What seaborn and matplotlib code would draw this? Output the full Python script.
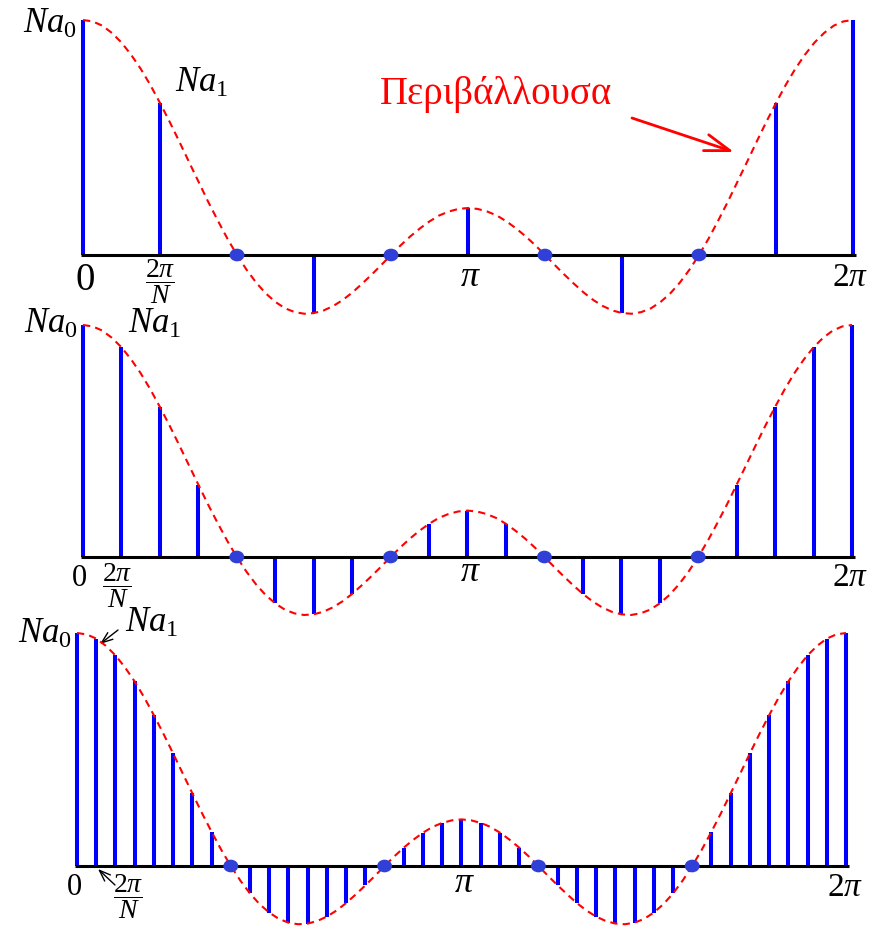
import numpy as np
import matplotlib
matplotlib.use("Agg")
import matplotlib.pyplot as plt
import matplotlib.path as mpath
from matplotlib.transforms import Affine2D
import seaborn as sns

sns.set_theme(style="white")
plt.rcParams["font.family"] = ["Liberation Serif", "DejaVu Serif"]
plt.rcParams["mathtext.fontset"] = "custom"
plt.rcParams["mathtext.rm"] = "Liberation Serif"
plt.rcParams["mathtext.it"] = "Liberation Serif:italic"
plt.rcParams["mathtext.bf"] = "Liberation Serif:bold"

# Envelope of the spectrum, sampled on a grid of 1/80 of the period (0 .. 2π)
envelope = [
    1.000, 0.994, 0.976, 0.945, 0.904, 0.852, 0.792, 0.723, 0.647,
    0.567, 0.483, 0.397, 0.312, 0.227, 0.147, 0.070, 0.000,
    -0.063, -0.118, -0.164, -0.200, -0.227, -0.243, -0.250, -0.247,
    -0.236, -0.217, -0.191, -0.159, -0.122, -0.083, -0.042, 0.000,
    0.041, 0.079, 0.113, 0.143, 0.168, 0.185, 0.196, 0.200,
    0.196, 0.185, 0.168, 0.143, 0.113, 0.079, 0.041, 0.000,
    -0.042, -0.083, -0.122, -0.159, -0.191, -0.217, -0.236, -0.247,
    -0.250, -0.243, -0.227, -0.200, -0.164, -0.118, -0.063, 0.000,
    0.070, 0.147, 0.227, 0.312, 0.397, 0.483, 0.567, 0.647,
    0.723, 0.792, 0.852, 0.904, 0.945, 0.976, 0.994, 1.000,
]

# Number of samples per period in each panel
sample_counts = [10, 20, 40]

# Axis labels: 0, 2π/N, π, 2π
tick_labels = ["0", r"$\dfrac{2\pi}{N}$", r"$\pi$", r"$2\pi$"]
amp_labels = [r"$Na_0$", r"$Na_1$"]
envelope_label = "Περιβάλλουσα"

W, H = 882, 930
fig = plt.figure(figsize=(W / 100, H / 100), dpi=100)

# Panel geometry in pixels: x of 0, x of 2π, baseline y, px per unit, top, bottom
geom = [
    (83, 853, 255, 235, 0, 318),
    (83, 852, 557, 232, 318, 618),
    (77, 846, 866, 233, 618, 930),
]
# Offsets (px) of the labels 0, 2π/N, π, 2π from their point on the axis
tick_offsets = [
    [(2, -26), (0, -27), (2, -22), (-3, -23)],
    [(-3.5, -21), (-4.5, -29), (2.5, -15.5), (-1.5, -20.5)],
    [(-3, -21), (32, -31), (2.5, -17), (-0.5, -21.5)],
]
zero_sizes = [28, 22, 22]
# Baseline-left positions of Na0 and Na1 in each panel
amp_pos = [
    [(23, 33), (175, 92)],
    [(24, 333), (128, 333)],
    [(18, 643), (125, 632)],
]

ellipse = mpath.Path.unit_circle().transformed(Affine2D().scale(1.0, 0.85))

t_env = np.linspace(0, 1, len(envelope))
env = np.array(envelope)
n_grid = len(envelope) - 1

axes = []
for i, ((x0, x1, base, unit, top, bottom), n) in enumerate(zip(geom, sample_counts)):
    ax = fig.add_axes([0, 1 - bottom / H, 1, (bottom - top) / H])
    ax.set_xlim(-x0 / (x1 - x0), (W - x0) / (x1 - x0))
    ax.set_ylim((base - bottom) / unit, (base - top) / unit)
    ax.axis("off")
    ax.patch.set_alpha(0)
    axes.append(ax)

    stride = n_grid // n
    t_s = t_env[::stride]
    v_s = env[::stride]
    nonzero = v_s != 0

    # samples as stems
    ax.vlines(t_s[nonzero], 0, v_s[nonzero], color="#0000ff", lw=2.9,
              zorder=2, clip_on=False)
    # frequency axis
    ax.plot([-0.003, 1.004], [0, 0], color="black", lw=2.2, zorder=3,
            solid_capstyle="butt", clip_on=False)
    # envelope
    sns.lineplot(x=t_env, y=env, ax=ax, color="red", lw=1.5,
                 linestyle=(0, (3.5, 2.5)), zorder=4, clip_on=False)
    # zero crossings
    sns.scatterplot(x=t_s[~nonzero], y=v_s[~nonzero], ax=ax, marker=ellipse,
                    s=115, color="#2f3fd8", edgecolor="none", zorder=5,
                    clip_on=False)

    # labels on the axis
    tick_pos = [0, 1 / n, 0.5, 1]
    sizes = [zero_sizes[i], 20, 26, 24]
    for lab, tp, off, fs in zip(tick_labels, tick_pos, tick_offsets[i], sizes):
        ax.annotate(lab, xy=(tp, 0), xycoords="data", xytext=off,
                    textcoords="offset pixels", ha="center", va="center",
                    fontsize=fs, color="black", annotation_clip=False)

    for lab, (px, py) in zip(amp_labels, amp_pos[i]):
        fig.text(px / W, 1 - py / H, lab, ha="left", va="baseline",
                 fontsize=25, color="black")

# envelope caption and its arrow
fig.text(496 / W, 1 - 104 / H, envelope_label, ha="center", va="baseline",
         fontsize=28, color="red")
axes[0].annotate("", xy=(734, H - 152), xycoords="figure pixels",
                 xytext=(632, H - 118), textcoords="figure pixels",
                 arrowprops=dict(arrowstyle="->,head_length=1.8,head_width=0.6",
                                 color="red", lw=2.0, mutation_scale=10,
                                 shrinkA=0, shrinkB=0),
                 annotation_clip=False)

# pointers in the last panel
axes[2].annotate("", xy=(100, H - 644), xycoords="figure pixels",
                 xytext=(118, H - 630), textcoords="figure pixels",
                 arrowprops=dict(arrowstyle="->,head_length=0.8,head_width=0.3",
                                 color="black", lw=1.0, mutation_scale=10,
                                 shrinkA=0, shrinkB=0),
                 annotation_clip=False)
axes[2].annotate("", xy=(98, H - 869), xycoords="figure pixels",
                 xytext=(115, H - 885), textcoords="figure pixels",
                 arrowprops=dict(arrowstyle="->,head_length=0.8,head_width=0.3",
                                 color="black", lw=1.0, mutation_scale=10,
                                 shrinkA=0, shrinkB=0),
                 annotation_clip=False)

fig.savefig("out.png", dpi=100, facecolor="white")
